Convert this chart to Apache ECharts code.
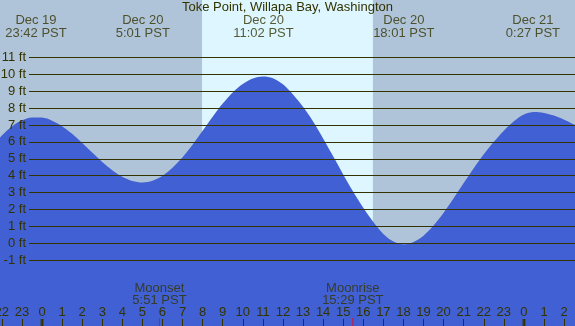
<!DOCTYPE html>
<html><head><meta charset="utf-8">
<script src="https://cdn.jsdelivr.net/npm/echarts@6/dist/echarts.min.js"></script>
<style>html,body{margin:0;padding:0;background:#b0c4d9;}#c{width:575px;height:326px;}</style>
</head><body><div id="c"></div>
<script>
// hours relative to Dec 20 00:00 PST, every half hour
const tideHours = [-2.5, -2, -1.5, -1, -0.5, 0, 0.5, 1, 1.5, 2, 2.5, 3, 3.5, 4, 4.5, 5, 5.5, 6, 6.5, 7, 7.5, 8, 8.5, 9, 9.5, 10, 10.5, 11, 11.5, 12, 12.5, 13, 13.5, 14, 14.5, 15, 15.5, 16, 16.5, 17, 17.5, 18, 18.5, 19, 19.5, 20, 20.5, 21, 21.5, 22, 22.5, 23, 23.5, 24, 24.5, 25, 25.5, 26, 26.5, 27];
const tideFt = [5.72, 6.38, 6.91, 7.28, 7.45, 7.44, 7.26, 6.93, 6.48, 5.94, 5.37, 4.82, 4.33, 3.94, 3.69, 3.60, 3.70, 4.00, 4.48, 5.10, 5.84, 6.66, 7.49, 8.27, 8.93, 9.43, 9.75, 9.87, 9.77, 9.41, 8.81, 8.08, 7.21, 6.21, 5.15, 4.08, 3.05, 2.10, 1.26, 0.56, 0.11, -0.06, 0.08, 0.45, 1.05, 1.81, 2.67, 3.57, 4.45, 5.27, 6.01, 6.67, 7.23, 7.63, 7.78, 7.72, 7.56, 7.32, 7.03, 6.67];
const extremeHours = [-0.3, 5.02, 11.03, 18.02, 24.45];
const extremeDates = ['Dec 19', 'Dec 20', 'Dec 20', 'Dec 20', 'Dec 21'];
const extremeTimes = ['23:42 PST', '5:01 PST', '11:02 PST', '18:01 PST', '0:27 PST'];
const sunriseHour = 7.97;
const sunsetHour = 16.48;
const moonHours = [5.85, 15.48];
const moonEvents = ['Moonset', 'Moonrise'];
const moonTimes = ['5:51 PST', '15:29 PST'];
const midnightHours = [0, 24];
const ftMin = -1, ftMax = 11;
const title = 'Toke Point, Willapa Bay, Washington';

const TXT = '#333300';
const FONT = 'Liberation Sans';
const yLo = -4.89, yHi = 14.4;

const chart = echarts.init(document.getElementById('c'));
chart.setOption({
  animation: false,
  backgroundColor: '#b0c4d9',
  textStyle: {fontFamily: FONT},
  title: {text: title, left: 'center', top: -1, padding: [2, 0, 0, 0],
    textStyle: {fontSize: 13, fontWeight: 'normal', color: TXT, fontFamily: FONT}},
  grid: [
    {left: -18.24, right: -9.16, top: 0, bottom: 0, containLabel: false, outerBoundsMode: 'none'},
    {left: 29, right: 0, top: 57.4, bottom: 65.8, containLabel: false, outerBoundsMode: 'none'}
  ],
  xAxis: [
    {type: 'value', gridIndex: 0, min: -3, max: 27, interval: 1, z: 10, position: 'bottom',
      axisLine: {show: false, onZero: false}, splitLine: {show: false},
      axisTick: {show: true, inside: true, length: 7, lineStyle: {color: TXT, width: 1}},
      axisLabel: {inside: true, margin: 7, color: TXT, fontSize: 13, fontFamily: FONT,
        hideOverlap: false, showMinLabel: true, showMaxLabel: true,
        formatter: v => String(((v % 24) + 24) % 24)}},
    {type: 'value', gridIndex: 1, min: -3, max: 27, show: false}
  ],
  yAxis: [
    {type: 'value', gridIndex: 0, min: yLo, max: yHi, show: false},
    {type: 'value', gridIndex: 1, min: ftMin, max: ftMax, interval: 1, z: 10,
      axisLine: {show: false}, axisTick: {show: false},
      splitLine: {show: true, lineStyle: {color: TXT, width: 1}},
      axisLabel: {margin: 3, color: TXT, fontSize: 13, fontFamily: FONT, formatter: '{value} ft'}}
  ],
  series: [
    {type: 'line', xAxisIndex: 0, yAxisIndex: 0, z: 1, symbol: 'none',
      data: [[sunriseHour, yHi], [sunsetHour, yHi]], lineStyle: {opacity: 0},
      markArea: {silent: true, itemStyle: {color: '#ddf6ff'},
        data: [[{xAxis: sunriseHour}, {xAxis: sunsetHour}]]}},
    {type: 'line', xAxisIndex: 0, yAxisIndex: 0, z: 2, symbol: 'none', smooth: 0.3,
      data: tideHours.map((h, i) => [h, tideFt[i]]),
      lineStyle: {width: 0},
      areaStyle: {color: '#4160d3', opacity: 1, origin: 'start'}},
    {type: 'scatter', xAxisIndex: 0, yAxisIndex: 0, z: 20, symbol: 'rect', symbolSize: [3, 7],
      symbolOffset: [0, -3.5], itemStyle: {color: TXT},
      data: midnightHours.map(h => [h, yLo])},
    {type: 'scatter', xAxisIndex: 0, yAxisIndex: 0, z: 20, symbol: 'rect', symbolSize: [1, 8],
      symbolOffset: [0, -4], itemStyle: {color: '#ff0000'},
      data: moonHours.map((h, i) => ({value: [h, yLo],
        label: {show: true, position: 'top', distance: 11, formatter: moonEvents[i] + '\n' + moonTimes[i],
          color: TXT, fontSize: 13, lineHeight: 12.5, align: 'center', fontFamily: FONT}}))},
    {type: 'scatter', xAxisIndex: 0, yAxisIndex: 0, z: 20, symbolSize: 1, itemStyle: {color: 'transparent'},
      data: extremeHours.map((h, i) => ({value: [h, yHi],
        label: {show: true, position: 'bottom', distance: 14, formatter: extremeDates[i] + '\n' + extremeTimes[i],
          color: TXT, fontSize: 13, lineHeight: 12.5, align: 'center', fontFamily: FONT}}))}
  ]
});
</script></body></html>
